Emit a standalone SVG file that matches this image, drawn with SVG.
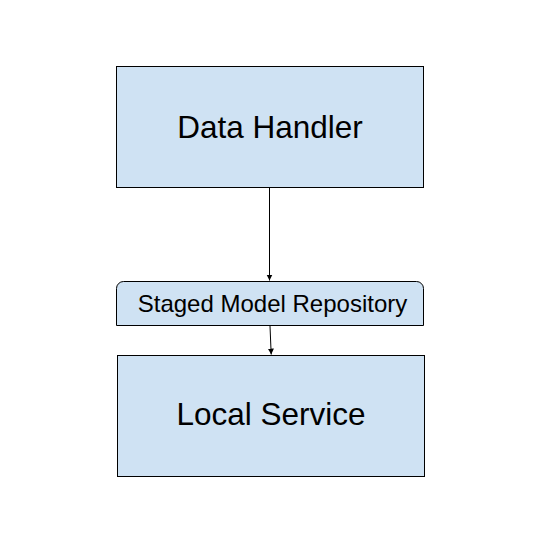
<svg xmlns="http://www.w3.org/2000/svg" width="541" height="543" viewBox="0 0 541 543">
<style>
.box{fill:#cfe2f3;stroke:#000;stroke-width:1}
.lbl{font-family:"Liberation Sans",Arial,sans-serif;fill:#000;text-anchor:middle}
.edge{stroke:#000;stroke-width:1;fill:none}
</style>
<defs>
<marker id="arr" markerWidth="8" markerHeight="8" refX="6" refY="3" orient="auto" markerUnits="userSpaceOnUse">
<path d="M0,0 L6,3 L0,6 Z" fill="#000"/>
</marker>
</defs>
<rect width="541" height="543" fill="#fff"/>
<g id="data-handler">
<rect class="box" x="116.5" y="66.5" width="307" height="121"/>
<text class="lbl" x="270" y="138" font-size="31.5">Data Handler</text>
</g>
<g id="staged-model-repository">
<path class="box" d="M116.5,325.5 V288.5 A7,7 0 0 1 123.5,281.5 H416.5 A7,7 0 0 1 423.5,288.5 V325.5 Z"/>
<text class="lbl" x="272.5" y="312" font-size="24">Staged Model Repository</text>
</g>
<g id="local-service">
<rect class="box" x="117.5" y="355.5" width="307" height="121"/>
<text class="lbl" x="271" y="425" font-size="31.5">Local Service</text>
</g>
<g id="connectors">
<line class="edge" x1="269.5" y1="188" x2="269.5" y2="280.5" marker-end="url(#arr)"/>
<line class="edge" x1="270" y1="326" x2="271.2" y2="354.5" marker-end="url(#arr)"/>
</g>
</svg>
